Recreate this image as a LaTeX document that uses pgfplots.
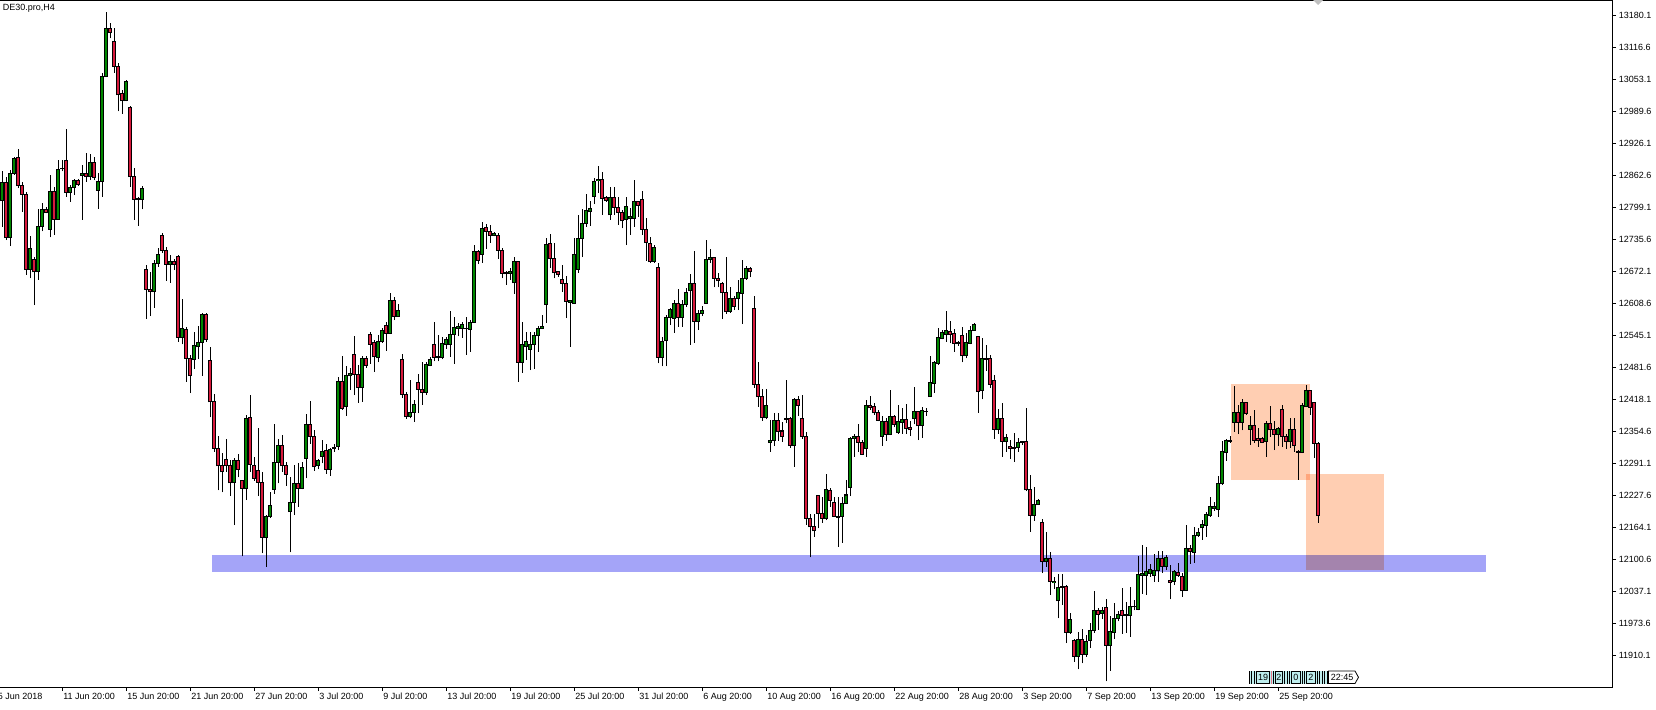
\documentclass[border=0pt]{standalone}
\usepackage{fontspec}
\setmainfont{Liberation Sans}
\usepackage{pgfplots}
\pgfplotsset{compat=1.18}
\usepackage{pgfplotstable}
\definecolor{bull}{RGB}{0,135,0}
\definecolor{bear}{RGB}{215,25,60}
\definecolor{bandblue}{RGB}{164,164,248}
\definecolor{peach}{RGB}{255,206,178}
\definecolor{uicyan}{RGB}{190,238,238}
\newcommand{\mtfont}{\fontsize{4.5pt}{5pt}\selectfont}

\pgfplotstableread{
i o h l c
0 12813 12871 12761 12849
1 12849 12861 12735 12740
2 12740 12874 12723 12867
3 12867 12900 12864 12897
4 12899 12916 12838 12843
5 12843 12851 12791 12826
6 12826 12831 12666 12677
7 12677 12743 12659 12718
8 12697 12702 12606 12672
9 12672 12796 12656 12761
10 12761 12809 12752 12796
11 12796 12801 12788 12789
12 12756 12864 12740 12832
13 12832 12841 12745 12776
14 12776 12894 12775 12875
15 12876 12894 12871 12877
16 12893 12955 12821 12829
17 12829 12844 12811 12840
18 12840 12857 12824 12853
19 12853 12857 12843 12845
20 12863 12884 12775 12867
21 12867 12907 12851 12861
22 12861 12906 12854 12889
23 12889 12900 12854 12859
24 12834 12867 12797 12851
25 12851 13066 12821 13060
26 13059 13187 13058 13155
27 13155 13165 13135 13147
28 13129 13155 13067 13079
29 13080 13086 12990 13023
30 13025 13033 12986 13011
31 13011 13052 13010 13049
32 12998 13000 12841 12861
33 12861 12877 12775 12816
34 12818 12821 12763 12816
35 12816 12842 12796 12838
36 12677 12685 12578 12637
37 12636 12672 12584 12632
38 12632 12695 12601 12689
39 12689 12720 12682 12707
40 12743 12748 12709 12714
41 12715 12722 12654 12687
42 12687 12705 12650 12693
43 12693 12697 12675 12687
44 12703 12705 12533 12542
45 12542 12618 12528 12560
46 12558 12563 12454 12500
47 12500 12507 12431 12466
48 12498 12552 12479 12525
49 12523 12564 12498 12532
50 12532 12591 12466 12588
51 12588 12591 12533 12537
52 12495 12523 12383 12414
53 12415 12429 12315 12322
54 12322 12346 12238 12287
55 12288 12312 12234 12275
56 12300 12341 12275 12287
57 12288 12298 12227 12253
58 12253 12302 12169 12297
59 12297 12310 12264 12280
60 12257 12257 12107 12242
61 12242 12388 12219 12380
62 12382 12427 12275 12290
63 12288 12304 12257 12262
64 12277 12361 12227 12254
65 12254 12275 12113 12145
66 12145 12189 12087 12187
67 12186 12234 12183 12209
68 12240 12370 12231 12294
69 12294 12341 12252 12328
70 12328 12348 12275 12287
71 12287 12294 12247 12270
72 12196 12265 12115 12214
73 12214 12288 12189 12252
74 12252 12292 12206 12242
75 12242 12294 12240 12284
76 12302 12390 12262 12368
77 12368 12415 12331 12346
78 12346 12358 12277 12285
79 12287 12300 12280 12297
80 12305 12338 12292 12316
81 12318 12330 12271 12280
82 12280 12322 12267 12320
83 12321 12330 12315 12323
84 12325 12464 12318 12454
85 12455 12505 12398 12401
86 12404 12484 12386 12467
87 12466 12482 12437 12470
88 12508 12545 12427 12468
89 12469 12487 12412 12442
90 12442 12505 12414 12500
91 12500 12505 12482 12486
92 12548 12553 12489 12528
93 12531 12537 12474 12503
94 12501 12546 12492 12533
95 12533 12560 12531 12556
96 12566 12573 12515 12550
97 12550 12629 12548 12614
98 12614 12621 12576 12584
99 12584 12608 12583 12596
100 12497 12509 12421 12429
101 12429 12434 12380 12384
102 12384 12457 12381 12393
103 12393 12417 12374 12408
104 12452 12470 12391 12439
105 12439 12492 12408 12432
106 12432 12492 12427 12487
107 12486 12502 12484 12498
108 12527 12572 12494 12502
109 12502 12546 12494 12503
110 12502 12542 12498 12529
111 12528 12543 12519 12537
112 12528 12594 12503 12548
113 12548 12583 12489 12562
114 12560 12571 12544 12563
115 12560 12573 12541 12568
116 12560 12582 12507 12559
117 12558 12576 12513 12572
118 12572 12725 12570 12713
119 12713 12716 12687 12695
120 12707 12770 12690 12758
121 12760 12766 12718 12752
122 12752 12765 12730 12744
123 12744 12750 12742 12748
124 12743 12748 12697 12714
125 12715 12720 12659 12669
126 12670 12674 12646 12668
127 12669 12679 12656 12673
128 12650 12701 12628 12693
129 12693 12693 12454 12492
130 12492 12573 12472 12527
131 12523 12553 12497 12533
132 12518 12553 12477 12528
133 12528 12553 12480 12546
134 12545 12564 12513 12560
135 12560 12586 12558 12564
136 12607 12738 12571 12727
137 12728 12746 12679 12699
138 12699 12730 12659 12670
139 12672 12674 12662 12667
140 12657 12685 12632 12649
141 12649 12664 12580 12613
142 12611 12616 12523 12614
143 12609 12738 12608 12707
144 12677 12785 12670 12738
145 12738 12796 12701 12768
146 12768 12826 12761 12793
147 12791 12813 12763 12798
148 12821 12859 12806 12852
149 12853 12882 12828 12856
150 12856 12869 12785 12818
151 12819 12822 12811 12814
152 12785 12841 12775 12820
153 12820 12841 12785 12800
154 12800 12821 12765 12790
155 12790 12795 12758 12773
156 12776 12820 12725 12801
157 12777 12798 12745 12781
158 12778 12854 12761 12812
159 12812 12813 12781 12804
160 12816 12833 12745 12756
161 12756 12778 12694 12730
162 12728 12740 12689 12692
163 12692 12725 12689 12720
164 12681 12690 12490 12502
165 12502 12543 12484 12533
166 12535 12586 12484 12582
167 12582 12601 12566 12597
168 12580 12616 12551 12609
169 12609 12637 12563 12581
170 12581 12616 12563 12608
171 12608 12640 12603 12630
172 12634 12667 12527 12648
173 12648 12713 12531 12573
174 12573 12596 12556 12589
175 12589 12604 12584 12596
176 12609 12735 12608 12697
177 12697 12717 12689 12701
178 12701 12701 12641 12659
179 12659 12669 12641 12654
180 12648 12652 12578 12630
181 12631 12701 12589 12593
182 12593 12642 12591 12619
183 12619 12624 12596 12604
184 12619 12656 12596 12631
185 12629 12695 12568 12659
186 12659 12683 12656 12679
187 12679 12682 12661 12672
188 12599 12624 12442 12449
189 12449 12492 12404 12424
190 12424 12439 12376 12382
191 12382 12439 12379 12406
192 12333 12378 12315 12338
193 12337 12392 12326 12376
194 12376 12392 12337 12355
195 12356 12373 12335 12345
196 12380 12457 12371 12379
197 12380 12384 12322 12327
198 12327 12421 12285 12419
199 12419 12426 12386 12406
200 12380 12427 12341 12345
201 12346 12355 12169 12183
202 12183 12191 12105 12166
203 12167 12191 12146 12158
204 12228 12229 12163 12193
205 12193 12226 12174 12183
206 12183 12271 12179 12239
207 12238 12242 12206 12219
208 12214 12226 12185 12187
209 12187 12226 12126 12185
210 12186 12226 12134 12212
211 12212 12259 12211 12229
212 12244 12345 12227 12341
213 12341 12351 12305 12346
214 12346 12369 12315 12333
215 12333 12338 12308 12310
216 12322 12418 12304 12406
217 12406 12426 12398 12402
218 12404 12411 12388 12392
219 12393 12398 12375 12377
220 12346 12386 12327 12375
221 12375 12382 12337 12349
222 12349 12437 12348 12384
223 12384 12388 12363 12369
224 12353 12408 12351 12375
225 12373 12401 12351 12379
226 12378 12409 12351 12361
227 12363 12375 12346 12358
228 12380 12443 12369 12394
229 12394 12396 12338 12366
230 12367 12404 12343 12396
231 12394 12401 12386 12395
232 12424 12504 12423 12452
233 12451 12495 12432 12492
234 12490 12560 12487 12541
235 12540 12556 12538 12551
236 12548 12594 12533 12555
237 12554 12575 12530 12548
238 12550 12558 12513 12530
239 12531 12535 12525 12529
240 12546 12563 12492 12505
241 12505 12550 12500 12531
242 12530 12564 12528 12556
243 12556 12570 12555 12568
244 12543 12545 12392 12434
245 12436 12540 12419 12500
246 12500 12527 12475 12498
247 12500 12507 12441 12449
248 12457 12467 12341 12359
249 12358 12400 12351 12380
250 12380 12412 12305 12335
251 12335 12351 12315 12343
252 12326 12338 12300 12322
253 12324 12353 12295 12322
254 12324 12343 12315 12334
255 12334 12336 12328 12335
256 12336 12401 12236 12239
257 12240 12269 12156 12189
258 12189 12244 12178 12211
259 12210 12221 12209 12219
260 12175 12181 12074 12097
261 12097 12155 12087 12103
262 12103 12116 12031 12057
263 12055 12067 12042 12058
264 12019 12072 11984 12046
265 12048 12073 12011 12046
266 12048 12050 11935 11956
267 11956 11994 11954 11981
268 11941 11943 11898 11909
269 11909 11958 11883 11943
270 11943 11964 11895 11913
271 11913 11951 11908 11938
272 11940 11976 11925 11961
273 11961 12039 11956 11999
274 11999 12004 11962 11992
275 11994 12007 11982 11999
276 12006 12022 11859 11931
277 11931 11988 11880 11958
278 11956 12014 11943 11984
279 11983 11998 11978 11992
280 11999 12044 11954 11989
281 11991 12017 11956 11990
282 11990 12046 11948 12007
283 12007 12021 12000 12008
284 12002 12107 12000 12072
285 12070 12130 12033 12074
286 12069 12126 12031 12077
287 12074 12093 12067 12082
288 12070 12112 12057 12080
289 12080 12117 12057 12103
290 12103 12117 12075 12087
291 12088 12110 12080 12105
292 12060 12090 12022 12056
293 12057 12080 12050 12077
294 12076 12095 12067 12070
295 12068 12074 12027 12039
296 12040 12169 12039 12123
297 12123 12130 12093 12117
298 12115 12166 12095 12148
299 12148 12163 12146 12154
300 12164 12179 12140 12171
301 12168 12196 12146 12191
302 12189 12226 12186 12206
303 12203 12216 12198 12206
304 12201 12267 12185 12251
305 12251 12337 12249 12315
306 12313 12341 12297 12338
307 12336 12346 12333 12337
308 12373 12445 12355 12392
309 12392 12408 12350 12373
310 12373 12419 12357 12413
311 12413 12414 12388 12390
312 12359 12386 12328 12366
313 12366 12398 12332 12338
314 12341 12361 12325 12338
315 12341 12345 12332 12334
316 12335 12375 12305 12370
317 12370 12406 12345 12358
318 12358 12375 12318 12349
319 12349 12363 12326 12360
320 12398 12408 12324 12345
321 12346 12351 12320 12335
322 12335 12381 12323 12358
323 12358 12381 12315 12328
324 12314 12318 12259 12316
325 12313 12411 12312 12406
326 12404 12447 12403 12436
327 12436 12437 12388 12403
328 12413 12414 12302 12332
329 12332 12335 12174 12188
}\candles

\begin{document}
\begin{tikzpicture}
\useasboundingbox (0,-11pt) rectangle (828pt,343.5pt);
\begin{axis}[
  scale only axis, width=806pt, height=343.5pt,
  xmin=-0.5, xmax=402.5, ymin=11848.0, ymax=13211.25,
  clip=false, scaled y ticks=false, scaled x ticks=false,
  axis line style={draw=none},
  tick align=outside, major tick length=2pt,
  tick style={black, line width=0.5pt},
  xtick pos=left, ytick pos=right, yticklabel pos=right,
  /pgf/number format/assume math mode=true,
  xtick={15,31,47,63,79,95,111,127,143,159,175,191,207,223,239,255,271,287,303,319},
  xticklabels={11 Jun 20:00,15 Jun 20:00,21 Jun 20:00,27 Jun 20:00,3 Jul 20:00,9 Jul 20:00,13 Jul 20:00,19 Jul 20:00,25 Jul 20:00,31 Jul 20:00,6 Aug 20:00,10 Aug 20:00,16 Aug 20:00,22 Aug 20:00,28 Aug 20:00,3 Sep 20:00,7 Sep 20:00,13 Sep 20:00,19 Sep 20:00,25 Sep 20:00},
  ytick={11910.1,11973.6,12037.1,12100.6,12164.1,12227.6,12291.1,12354.6,12418.1,12481.6,12545.1,12608.6,12672.1,12735.6,12799.1,12862.6,12926.1,12989.6,13053.1,13116.6,13180.1},
  yticklabels={11910.1,11973.6,12037.1,12100.6,12164.1,12227.6,12291.1,12354.6,12418.1,12481.6,12545.1,12608.6,12672.1,12735.6,12799.1,12862.6,12926.1,12989.6,13053.1,13116.6,13180.1},
  xticklabel style={font=\mtfont, anchor=north west, inner sep=0pt, xshift=0.5pt, yshift=-1pt},
  yticklabel style={font=\mtfont, anchor=west, inner sep=0pt, xshift=1.2pt},
  candle/.style={forget plot, draw=none, mark=none,
    error bars/y dir=plus, error bars/y explicit, error bars/error mark=none},
]
% background objects
\addplot[forget plot, fill=bandblue, draw=none] coordinates {(52.4,12076.2) (371,12076.2) (371,12109.9) (52.4,12109.9)} -- cycle;
\addplot[forget plot, fill=peach, draw=none, blend mode=multiply] coordinates {(307.25,12258.8) (327,12258.8) (327,12449.3) (307.25,12449.3)} -- cycle;
\addplot[forget plot, fill=peach, draw=none, blend mode=multiply] coordinates {(326,12080.2) (345.6,12080.2) (345.6,12270.7) (326,12270.7)} -- cycle;
% wicks
\addplot[candle, error bars/error bar style={draw=black, line width=0.5pt}]
  table[x=i, y=l, y error expr={\thisrow{h}-\thisrow{l}}] {\candles};
% body outlines
\addplot[candle, error bars/error bar style={draw=black, line width=1.55pt}]
  table[x=i, y expr={min(\thisrow{o},\thisrow{c})-1}, y error expr={abs(\thisrow{c}-\thisrow{o})+2}] {\candles};
% bull bodies
\addplot[candle, restrict expr to domain={\thisrow{c}-\thisrow{o}}{2.5:100000},
  error bars/error bar style={draw=bull, line width=0.55pt}]
  table[x=i, y expr={\thisrow{o}+1}, y error expr={\thisrow{c}-\thisrow{o}-2}] {\candles};
% bear bodies
\addplot[candle, restrict expr to domain={\thisrow{o}-\thisrow{c}}{2.5:100000},
  error bars/error bar style={draw=bear, line width=0.55pt}]
  table[x=i, y expr={\thisrow{c}+1}, y error expr={\thisrow{o}-\thisrow{c}-2}] {\candles};
\end{axis}
% decorations in pixel coordinates (origin top-left)
\begin{scope}[x=0.5pt, y=-0.5pt, shift={(0,343.5pt)}]
\draw[black, line width=0.5pt] (0,0.5) -- (1612,0.5) -- (1612,687) -- (0,687);
\node[anchor=base west, inner sep=0pt, font=\mtfont] at (2.5,10.5) {DE30.pro,H4};
\node[anchor=north west, inner sep=0pt, font=\mtfont] at (-2.5,693) {5 Jun 2018};
\fill[black!25] (1313,0) -- (1323,0) -- (1318,5) -- cycle;
% bottom-right time ruler widget
\fill[uicyan] (1249,671) rectangle (1327,683.5);
\foreach \xx in {1249,1251.5,1254,1273,1284.5,1287,1289.5,1302,1304.5,1317,1319.5,1322,1324.5,1327}
  \draw[black, line width=0.4pt] (\xx,671) -- (\xx,683.5);
\draw[bear!60, line width=0.5pt] (1271,671) -- (1271,683.5);
\draw[black, line width=0.4pt] (1256.7,671) rectangle (1269,683.5);
\draw[black, line width=0.4pt] (1275,671) rectangle (1282.5,683.5);
\draw[black, line width=0.4pt] (1291.5,671) rectangle (1300,683.5);
\draw[black, line width=0.4pt] (1306.5,671) rectangle (1315,683.5);
\node[font=\mtfont, inner sep=0pt] at (1263,677.3) {19};
\node[font=\mtfont, inner sep=0pt] at (1278.8,677.3) {2};
\node[font=\mtfont, inner sep=0pt] at (1295.8,677.3) {0};
\node[font=\mtfont, inner sep=0pt] at (1310.8,677.3) {2};
\draw[black, line width=0.4pt, fill=white] (1328.5,671) -- (1355,671) -- (1358.5,677.3) -- (1355,683.5) -- (1328.5,683.5) -- cycle;
\node[font=\mtfont, inner sep=0pt] at (1342,677.3) {22:45};
\end{scope}
\end{tikzpicture}
\end{document}
